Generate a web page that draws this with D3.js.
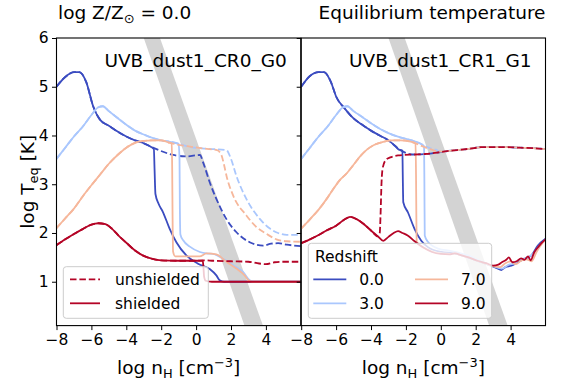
<!DOCTYPE html>
<html>
<head>
<meta charset="utf-8">
<script src="https://cdn.jsdelivr.net/npm/d3@7"></script>
<style>
  html, body { margin: 0; padding: 0; background: #ffffff; }
  svg { display: block; font-family: "DejaVu Sans", sans-serif; }
</style>
</head>
<body>
<svg id="chart" width="574" height="383"></svg>
<script>
// ---------------- data ----------------
const redshifts = ["0.0", "3.0", "7.0", "9.0"];
const colors = ["#3b4cc0", "#aac7fd", "#f6b79b", "#b40426"];
const panelLabels = ["UVB_dust1_CR0_G0", "UVB_dust1_CR1_G1"];
const xTicks = [-8, -6, -4, -2, 0, 2, 4];
const yTicks = [1, 2, 3, 4, 5, 6];

// gray band (log n_H at the top and bottom of the axes)
const bandY = [6, 0.1];
const bandLeft = [-3.0, 2.77];
const bandRight = [-2.07, 3.83];

// ---- panel 1 : UVB_dust1_CR0_G0 ----
const cr0_z0_unshielded = [[-8,5.0],[-7.5,5.2],[-7.0,5.3],[-6.7,5.3],[-6.3,5.1],[-5.9,4.6],[-5.5,4.32],[-5.0,4.2],[-4.5,4.08],[-4.0,3.98],[-3.5,3.9],[-3.0,3.84],[-2.6,3.77],[-2.07,3.69],[-1.31,3.6],[-0.54,3.57],[0.22,3.6],[0.4,3.45],[0.78,3.04],[1.16,2.7],[1.73,2.29],[2.3,2.02],[3.07,1.81],[3.84,1.74],[4.3,1.78],[4.7,1.79],[5.2,1.76],[6,1.73]];
const cr0_z0_shielded = [[-8,5.0],[-7.5,5.2],[-7.0,5.3],[-6.7,5.3],[-6.3,5.1],[-5.9,4.6],[-5.5,4.32],[-5.0,4.2],[-4.5,4.08],[-4.0,3.98],[-3.5,3.9],[-3.0,3.84],[-2.6,3.77],[-2.42,3.72],[-2.38,3.3],[-2.33,2.8],[-2.15,2.6],[-1.9,2.43],[-1.52,2.09],[-1.13,1.81],[-0.56,1.54],[0.11,1.37],[0.78,1.26],[1.16,1.13],[1.35,1.03],[1.6,1.0],[6,1.0]];
const cr0_z3_unshielded = [[-8,3.52],[-7.5,3.75],[-7.0,3.98],[-6.5,4.18],[-6.0,4.42],[-5.6,4.58],[-5.35,4.6],[-5.0,4.5],[-4.5,4.36],[-4.0,4.22],[-3.5,4.1],[-3.0,4.02],[-2.5,3.95],[-2.0,3.9],[-1.5,3.87],[-1.0,3.83],[-0.3,3.76],[0.6,3.73],[1.73,3.7],[2.0,3.52],[2.3,3.18],[2.88,2.7],[3.65,2.29],[4.23,2.09],[4.7,2.0],[5.2,1.96],[6,1.96]];
const cr0_z3_shielded = [[-8,3.52],[-7.5,3.75],[-7.0,3.98],[-6.5,4.18],[-6.0,4.42],[-5.6,4.58],[-5.35,4.6],[-5.0,4.5],[-4.5,4.36],[-4.0,4.22],[-3.5,4.1],[-3.0,4.02],[-2.5,3.95],[-2.0,3.9],[-1.5,3.87],[-1.0,3.83],[-0.95,3.5],[-0.93,2.5],[-0.9,1.97],[-0.74,1.85],[-0.36,1.72],[0.22,1.61],[0.59,1.58],[0.97,1.57],[1.54,1.47],[2.12,1.34],[2.69,1.2],[3.07,1.03],[3.3,1.0],[6,1.0]];
const cr0_z7_unshielded = [[-8,2.1],[-7.5,2.3],[-7.0,2.5],[-6.5,2.75],[-6.0,2.98],[-5.5,3.2],[-5.0,3.42],[-4.5,3.6],[-4.0,3.75],[-3.5,3.85],[-3.0,3.89],[-2.5,3.9],[-2.0,3.9],[-1.6,3.86],[-1.4,3.84],[-0.5,3.78],[0.5,3.73],[1.2,3.7],[1.45,3.6],[1.6,3.4],[1.75,3.16],[2.12,2.77],[2.88,2.36],[3.46,2.12],[4.04,1.98],[4.6,1.87],[5.2,1.83],[6,1.82]];
const cr0_z7_shielded = [[-8,2.1],[-7.5,2.3],[-7.0,2.5],[-6.5,2.75],[-6.0,2.98],[-5.5,3.2],[-5.0,3.42],[-4.5,3.6],[-4.0,3.75],[-3.5,3.85],[-3.0,3.89],[-2.5,3.9],[-2.0,3.9],[-1.6,3.86],[-1.4,3.84],[-1.37,3.3],[-1.35,2.4],[-1.32,1.62],[-1.2,1.52],[0.2,1.52],[0.6,1.58],[1.16,1.56],[1.74,1.41],[2.31,1.27],[2.78,1.13],[3.0,1.03],[3.2,1.0],[6,1.0]];
const cr0_z9_unshielded = [[-8,1.75],[-7.5,1.87],[-7.0,1.98],[-6.5,2.08],[-6.0,2.17],[-5.6,2.2],[-5.2,2.18],[-4.8,2.08],[-4.4,1.93],[-4.0,1.8],[-3.5,1.64],[-3.0,1.53],[-2.5,1.47],[-2.0,1.44],[-1.0,1.43],[0.0,1.43],[0.45,1.44],[1.0,1.43],[2.0,1.42],[3.0,1.41],[3.5,1.38],[4.0,1.36],[4.5,1.4],[5.0,1.41],[6,1.41]];
const cr0_z9_shielded = [[-8,1.75],[-7.5,1.87],[-7.0,1.98],[-6.5,2.08],[-6.0,2.17],[-5.6,2.2],[-5.2,2.18],[-4.8,2.08],[-4.4,1.93],[-4.0,1.8],[-3.5,1.64],[-3.0,1.53],[-2.5,1.47],[-2.0,1.44],[-1.0,1.43],[0.0,1.43],[0.38,1.43],[0.42,1.3],[0.46,1.1],[0.55,1.02],[0.9,1.0],[6,1.0]];

// ---- panel 2 : UVB_dust1_CR1_G1 ----
const cr1_z0_unshielded = [[-8,5.0],[-7.5,5.22],[-7.0,5.3],[-6.7,5.3],[-6.3,5.1],[-6.0,4.8],[-5.5,4.55],[-5.0,4.35],[-4.5,4.22],[-4.0,4.1],[-3.5,4.0],[-3.0,3.9],[-2.6,3.78],[-2.4,3.72],[-2.1,3.66],[-1.8,3.62],[-1.5,3.61],[-0.9,3.62],[0.0,3.66],[0.6,3.69],[1.2,3.71],[1.9,3.74],[2.3,3.76],[3.0,3.76],[3.8,3.76],[4.5,3.75],[5.3,3.74],[6,3.72]];
const cr1_z0_shielded = [[-8,5.0],[-7.5,5.22],[-7.0,5.3],[-6.7,5.3],[-6.3,5.1],[-6.0,4.8],[-5.5,4.55],[-5.0,4.35],[-4.5,4.22],[-4.0,4.1],[-3.5,4.0],[-3.0,3.9],[-2.6,3.78],[-2.4,3.71],[-2.2,3.69],[-2.18,3.2],[-2.15,2.63],[-1.88,2.42],[-1.5,2.08],[-1.12,1.84],[-0.74,1.71],[0.03,1.61],[0.79,1.58],[1.55,1.5],[2.32,1.4],[3.08,1.3],[3.47,1.24],[3.7,1.3],[4.04,1.33],[4.42,1.4],[4.8,1.47],[5.19,1.54],[5.56,1.74],[6,1.88]];
const cr1_z3_unshielded = [[-8,3.52],[-7.5,3.75],[-7.0,3.98],[-6.5,4.18],[-6.0,4.42],[-5.6,4.58],[-5.35,4.6],[-5.0,4.5],[-4.5,4.38],[-4.0,4.25],[-3.5,4.14],[-3.0,4.05],[-2.5,3.98],[-2.0,3.93],[-1.5,3.88],[-1.1,3.82],[-0.7,3.75],[-0.3,3.71],[0.0,3.67],[0.6,3.69],[1.2,3.71],[1.9,3.74],[2.3,3.76],[3.0,3.76],[3.8,3.76],[4.5,3.75],[5.3,3.74],[6,3.72]];
const cr1_z3_shielded = [[-8,3.52],[-7.5,3.75],[-7.0,3.98],[-6.5,4.18],[-6.0,4.42],[-5.6,4.58],[-5.35,4.6],[-5.0,4.5],[-4.5,4.38],[-4.0,4.25],[-3.5,4.14],[-3.0,4.05],[-2.5,3.98],[-2.0,3.93],[-1.5,3.88],[-1.1,3.82],[-0.96,3.78],[-0.94,3.0],[-0.92,1.95],[-0.74,1.82],[-0.16,1.68],[0.6,1.63],[1.55,1.54],[2.3,1.42],[3.0,1.32],[3.5,1.27],[3.9,1.35],[4.2,1.37],[4.5,1.45],[5.0,1.5],[5.4,1.62],[5.7,1.76],[6,1.86]];
const cr1_z7_unshielded = [[-8,2.09],[-7.5,2.28],[-7.0,2.48],[-6.5,2.72],[-6.2,2.88],[-5.8,3.08],[-5.4,3.22],[-5.0,3.4],[-4.6,3.58],[-4.2,3.72],[-3.8,3.81],[-3.3,3.87],[-2.8,3.9],[-2.3,3.9],[-1.8,3.88],[-1.45,3.84],[-1.0,3.77],[-0.6,3.72],[0.0,3.67],[0.6,3.69],[1.2,3.71],[1.9,3.74],[2.3,3.76],[3.0,3.76],[3.8,3.76],[4.5,3.75],[5.3,3.74],[6,3.72]];
const cr1_z7_shielded = [[-8,2.09],[-7.5,2.28],[-7.0,2.48],[-6.5,2.72],[-6.2,2.88],[-5.8,3.08],[-5.4,3.22],[-5.0,3.4],[-4.6,3.58],[-4.2,3.72],[-3.8,3.81],[-3.3,3.87],[-2.8,3.9],[-2.3,3.9],[-1.8,3.88],[-1.45,3.84],[-1.42,3.2],[-1.4,2.3],[-1.38,1.82],[-1.3,1.78],[-1.0,1.7],[-0.5,1.62],[0.0,1.58],[0.5,1.57],[0.8,1.58],[1.2,1.54],[1.6,1.5],[2.1,1.43],[2.6,1.37],[3.0,1.32],[3.4,1.3],[3.7,1.38],[4.0,1.42],[4.3,1.36],[4.6,1.43],[4.9,1.46],[5.2,1.42],[5.5,1.62],[5.8,1.78],[6,1.86]];
const cr1_z9_unshielded = [[-8,1.79],[-7.5,1.87],[-7.0,1.96],[-6.5,2.06],[-6.0,2.15],[-5.5,2.28],[-5.2,2.33],[-4.8,2.28],[-4.4,2.18],[-4.0,2.05],[-3.6,1.93],[-3.5,2.0],[-3.45,2.4],[-3.4,3.0],[-3.33,3.33],[-3.15,3.5],[-2.9,3.55],[-2.45,3.59],[-1.5,3.61],[-0.9,3.62],[0.0,3.66],[0.6,3.69],[1.2,3.71],[1.9,3.74],[2.3,3.76],[3.0,3.76],[3.8,3.76],[4.5,3.75],[5.3,3.74],[6,3.72]];
const cr1_z9_shielded = [[-8,1.79],[-7.5,1.87],[-7.0,1.96],[-6.5,2.06],[-6.0,2.15],[-5.5,2.28],[-5.2,2.33],[-4.8,2.28],[-4.4,2.18],[-4.0,2.05],[-3.6,1.93],[-3.3,1.84],[-3.0,1.92],[-2.7,2.0],[-2.45,2.04],[-2.2,2.0],[-1.9,1.95],[-1.5,1.83],[-1.0,1.7],[-0.5,1.61],[0.0,1.57],[0.5,1.56],[0.8,1.58],[1.2,1.54],[1.6,1.5],[2.1,1.43],[2.6,1.38],[3.0,1.33],[3.3,1.35],[3.5,1.4],[3.75,1.45],[3.9,1.5],[4.1,1.4],[4.35,1.42],[4.6,1.48],[4.8,1.45],[5.0,1.52],[5.15,1.44],[5.35,1.6],[5.6,1.72],[5.8,1.8],[6.0,1.87]];

const panelSeries = [
  [[cr0_z0_unshielded, cr0_z0_shielded], [cr0_z3_unshielded, cr0_z3_shielded], [cr0_z7_unshielded, cr0_z7_shielded], [cr0_z9_unshielded, cr0_z9_shielded]],
  [[cr1_z0_unshielded, cr1_z0_shielded], [cr1_z3_unshielded, cr1_z3_shielded], [cr1_z7_unshielded, cr1_z7_shielded], [cr1_z9_unshielded, cr1_z9_shielded]]
];

// ---------------- layout ----------------
const svg = d3.select("#chart");
const plotTop = 38, plotBottom = 325.6;
const panelLeft = [56.5, 301.2];
const panelWidth = 244.3;
const y = d3.scaleLinear().domain([0.1, 6]).range([plotBottom, plotTop]);
const xs = panelLeft.map(l => d3.scaleLinear().domain([-8, 6]).range([l, l + panelWidth]));

const fontTick = 15.5, fontBig = 18.5, fontLeg = 15.5;
const lw = 1.8;
const dash = "6.5,2.9";

const defs = svg.append("defs");

xs.forEach((x, p) => {
  const clipId = "clip" + p;
  defs.append("clipPath").attr("id", clipId)
    .append("rect").attr("x", panelLeft[p]).attr("y", plotTop)
    .attr("width", panelWidth).attr("height", plotBottom - plotTop);

  const g = svg.append("g").attr("clip-path", `url(#${clipId})`);

  // gray band
  const band = [[bandLeft[0], bandY[0]], [bandRight[0], bandY[0]], [bandRight[1], bandY[1]], [bandLeft[1], bandY[1]]];
  g.append("path")
    .attr("d", d3.line().x(d => x(d[0])).y(d => y(d[1]))(band) + "Z")
    .attr("fill", "#d3d3d3");

  const line = d3.line().x(d => x(d[0])).y(d => y(d[1])).curve(d3.curveMonotoneX);

  panelSeries[p].forEach((pair, i) => {
    g.append("path").attr("d", line(pair[1]))
      .attr("fill", "none").attr("stroke", colors[i]).attr("stroke-width", lw)
      .attr("stroke-linejoin", "round");
    g.append("path").attr("d", line(pair[0]))
      .attr("fill", "none").attr("stroke", colors[i]).attr("stroke-width", lw)
      .attr("stroke-dasharray", dash);
  });

  // axes
  const xAxis = d3.axisBottom(x).tickValues(xTicks).tickSize(4.5).tickPadding(3.5).tickFormat(d3.format("d"));
  const gx = svg.append("g").attr("transform", `translate(0,${plotBottom})`).call(xAxis);
  gx.select(".domain").remove();
  gx.selectAll("text").attr("font-size", fontTick).attr("font-family", "DejaVu Sans").attr("fill", "#000");
  gx.selectAll("line").attr("stroke", "#000").attr("stroke-width", 1);

  const yAxis = d3.axisLeft(y).tickValues(yTicks).tickSize(4.5).tickPadding(3.5)
    .tickFormat(p === 0 ? d3.format("d") : () => "");
  const gy = svg.append("g").attr("transform", `translate(${panelLeft[p]},0)`).call(yAxis);
  gy.select(".domain").remove();
  gy.selectAll("text").attr("font-size", fontTick).attr("font-family", "DejaVu Sans").attr("fill", "#000");
  gy.selectAll("line").attr("stroke", "#000").attr("stroke-width", 1);

  // frame
  svg.append("rect").attr("x", panelLeft[p]).attr("y", plotTop)
    .attr("width", panelWidth).attr("height", plotBottom - plotTop)
    .attr("fill", "none").attr("stroke", "#000").attr("stroke-width", 1.1);

  // panel label
  svg.append("text").attr("x", panelLeft[p] + panelWidth - 14).attr("y", 66.7)
    .attr("text-anchor", "end").attr("font-size", fontBig).text(panelLabels[p]);

  // x label
  const xl = svg.append("text").attr("x", panelLeft[p] + panelWidth / 2).attr("y", 374)
    .attr("text-anchor", "middle").attr("font-size", fontBig);
  xl.append("tspan").text("log n");
  xl.append("tspan").attr("font-size", fontBig * 0.7).attr("dy", 4).text("H");
  xl.append("tspan").attr("dy", -4).text(" [cm");
  xl.append("tspan").attr("font-size", fontBig * 0.7).attr("dy", -7).text("−3");
  xl.append("tspan").attr("dy", 7).text("]");
});

// y label
const yl = svg.append("text")
  .attr("transform", `translate(33.5,${(plotTop + plotBottom) / 2}) rotate(-90)`)
  .attr("text-anchor", "middle").attr("font-size", fontBig);
yl.append("tspan").text("log T");
yl.append("tspan").attr("font-size", fontBig * 0.7).attr("dy", 4).text("eq");
yl.append("tspan").attr("dy", -4).text(" [K]");

// titles
const t1 = svg.append("text").attr("x", 58).attr("y", 19.3).attr("font-size", fontBig);
t1.append("tspan").text("log Z/Z");
t1.append("tspan").attr("font-size", fontBig * 0.7).attr("dy", 4).text("⊙");
t1.append("tspan").attr("dy", -4).text(" = 0.0");
svg.append("text").attr("x", 545.5).attr("y", 19.3).attr("text-anchor", "end")
  .attr("font-size", fontBig).text("Equilibrium temperature");

// ---------------- legends ----------------
function legendBox(x0, y0, w, h) {
  svg.append("rect").attr("x", x0).attr("y", y0).attr("width", w).attr("height", h)
    .attr("rx", 3).attr("ry", 3)
    .attr("fill", "#ffffff").attr("fill-opacity", 0.8)
    .attr("stroke", "#cccccc").attr("stroke-width", 1);
}

// left legend (line style)
const styleNames = ["unshielded", "shielded"];
const styleDash = [dash, null];
legendBox(63.3, 266.7, 145, 51.6);
styleNames.forEach((s, i) => {
  const yy = 279.3 + i * 24;
  svg.append("line").attr("x1", 70).attr("x2", 100).attr("y1", yy).attr("y2", yy)
    .attr("stroke", colors[3]).attr("stroke-width", lw)
    .attr("stroke-dasharray", styleDash[i]);
  svg.append("text").attr("x", 115).attr("y", yy + 5.6).attr("font-size", fontLeg).text(s);
});

// right legend (redshift)
legendBox(308.3, 243.3, 183.4, 75);
svg.append("text").attr("x", 315).attr("y", 261.7).attr("font-size", fontLeg).text("Redshift");
redshifts.forEach((z, i) => {
  const col = Math.floor(i / 2), row = i % 2;
  const x0 = 313.3 + col * 101.7;
  const yy = 279.3 + row * 24;
  svg.append("line").attr("x1", x0).attr("x2", x0 + 33).attr("y1", yy).attr("y2", yy)
    .attr("stroke", colors[i]).attr("stroke-width", lw);
  svg.append("text").attr("x", x0 + 46).attr("y", yy + 5.6).attr("font-size", fontLeg).text(z);
});
</script>
</body>
</html>
